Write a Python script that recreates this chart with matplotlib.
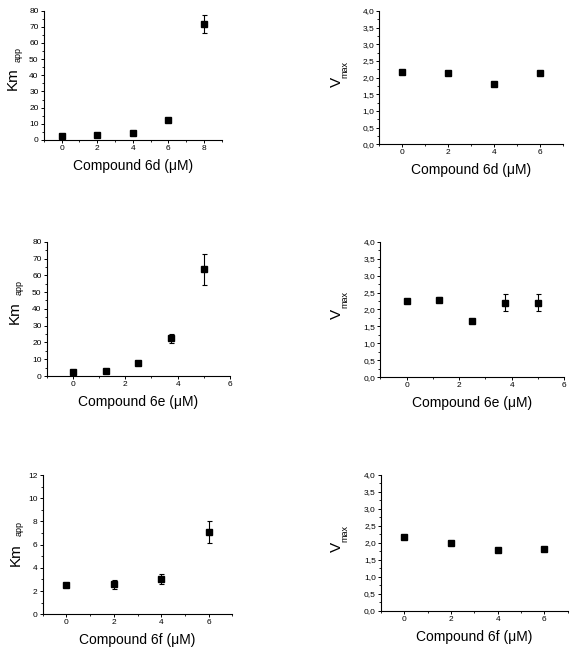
import matplotlib
matplotlib.use("Agg")
import matplotlib.pyplot as plt
from matplotlib.ticker import MultipleLocator, FuncFormatter

plt.rcParams['font.family'] = ['Liberation Sans', 'DejaVu Sans']

# ---- data ----
x_6d_km = [0, 2, 4, 6, 8]
y_6d_km = [2.7, 3.1, 4.3, 12.2, 71.9]
e_6d_km = [0.4, 0.3, 0.4, 0.5, 5.5]

x_6d_v = [0, 2, 4, 6]
y_6d_v = [2.16, 2.15, 1.82, 2.15]
e_6d_v = [0.06, 0.03, 0.06, 0.03]

x_6e_km = [0, 1.25, 2.5, 3.75, 5]
y_6e_km = [2.6, 3.0, 7.7, 22.4, 63.5]
e_6e_km = [0.3, 0.3, 0.6, 2.8, 9.2]

x_6e_v = [0, 1.25, 2.5, 3.75, 5]
y_6e_v = [2.24, 2.29, 1.67, 2.20, 2.20]
e_6e_v = [0.03, 0.08, 0.05, 0.245, 0.245]

x_6f_km = [0, 2, 4, 6]
y_6f_km = [2.5, 2.58, 3.04, 7.09]
e_6f_km = [0.15, 0.39, 0.42, 0.92]

x_6f_v = [0, 2, 4, 6]
y_6f_v = [2.16, 1.99, 1.78, 1.83]
e_6f_v = [0.03, 0.05, 0.03, 0.06]

xlabels = ['Compound 6d (μM)', 'Compound 6e (μM)', 'Compound 6f (μM)']

W, H = 575, 659
fig = plt.figure(figsize=(W / 100, H / 100), dpi=100)

def fx(px):
    return px / W

def fy(py):
    return 1 - py / H

panels = [
    # rect, x, y, err, xlim, xmajor, ylim, ymajor, yminor, kind, xlabel, comma, main(px), sub(px)
    ([0.076, 0.7876, 0.3096, 0.1962], x_6d_km, y_6d_km, e_6d_km, (-1, 9), 2, (0, 80), 10, 5,
     'km', xlabels[0], False, (16.7, 79), (20.5, 55)),
    ([0.6597, 0.781, 0.319, 0.2023], x_6d_v, y_6d_v, e_6d_v, (-1, 7), 2, (0, 4), 0.5, 0.25,
     'v', xlabels[0], True, (340.5, 82), (347, 69)),
    ([0.0812, 0.4294, 0.3188, 0.2038], x_6e_km, y_6e_km, e_6e_km, (-1, 6), 2, (0, 80), 10, 5,
     'km', xlabels[1], False, (18.3, 312.5), (22, 287.5)),
    ([0.6614, 0.4275, 0.32, 0.2057], x_6e_v, y_6e_v, e_6e_v, (-1, 6), 2, (0, 4), 0.5, 0.25,
     'v', xlabels[1], True, (341, 314), (347.5, 300)),
    ([0.0743, 0.0678, 0.3297, 0.2114], x_6f_km, y_6f_km, e_6f_km, (-1, 7), 2, (0, 12), 2, 1,
     'km', xlabels[2], False, (19.3, 555), (22, 529)),
    ([0.6626, 0.0733, 0.3247, 0.206], x_6f_v, y_6f_v, e_6f_v, (-1, 7), 2, (0, 4), 0.5, 0.25,
     'v', xlabels[2], True, (341, 547), (347.5, 534)),
]

for (rect, xs, ys, es, xlim, xmaj, ylim, ymaj, ymin, kind, xl, comma,
     mainpos, subpos) in panels:
    ax = fig.add_axes(rect)
    ax.errorbar(xs, ys, yerr=es, fmt='s', color='black', ms=4.6, ecolor='black',
                elinewidth=0.8, capsize=1.8, capthick=0.8)
    ax.set_xlim(*xlim)
    ax.set_ylim(*ylim)
    for s in ['top', 'right']:
        ax.spines[s].set_visible(False)
    for s in ['left', 'bottom']:
        ax.spines[s].set_linewidth(0.8)
    ax.xaxis.set_major_locator(MultipleLocator(xmaj))
    ax.xaxis.set_minor_locator(MultipleLocator(xmaj / 2))
    ax.yaxis.set_major_locator(MultipleLocator(ymaj))
    ax.yaxis.set_minor_locator(MultipleLocator(ymin))
    ax.xaxis.set_major_formatter(FuncFormatter(lambda v, p: '%d' % round(v) if v >= 0 else ''))
    if comma:
        ax.yaxis.set_major_formatter(FuncFormatter(lambda v, p: ('%.1f' % v).replace('.', ',')))
    else:
        ax.yaxis.set_major_formatter(FuncFormatter(lambda v, p: '%d' % round(v)))
    ax.tick_params(which='major', direction='out', length=2.5, width=0.7, labelsize=6, pad=1.2)
    ax.tick_params(which='minor', direction='out', length=1.6, width=0.6)
    ax.set_xlabel(xl, fontsize=10, labelpad=5)
    main, sub = ('Km', 'app') if kind == 'km' else ('V', 'max')
    fig.text(fx(mainpos[0]), fy(mainpos[1]), main, rotation=90, rotation_mode='anchor',
             ha='center', va='baseline', fontsize=11)
    fig.text(fx(subpos[0]), fy(subpos[1]), sub, rotation=90, rotation_mode='anchor',
             ha='center', va='baseline', fontsize=6.5)

fig.savefig('out.png', dpi=100)
